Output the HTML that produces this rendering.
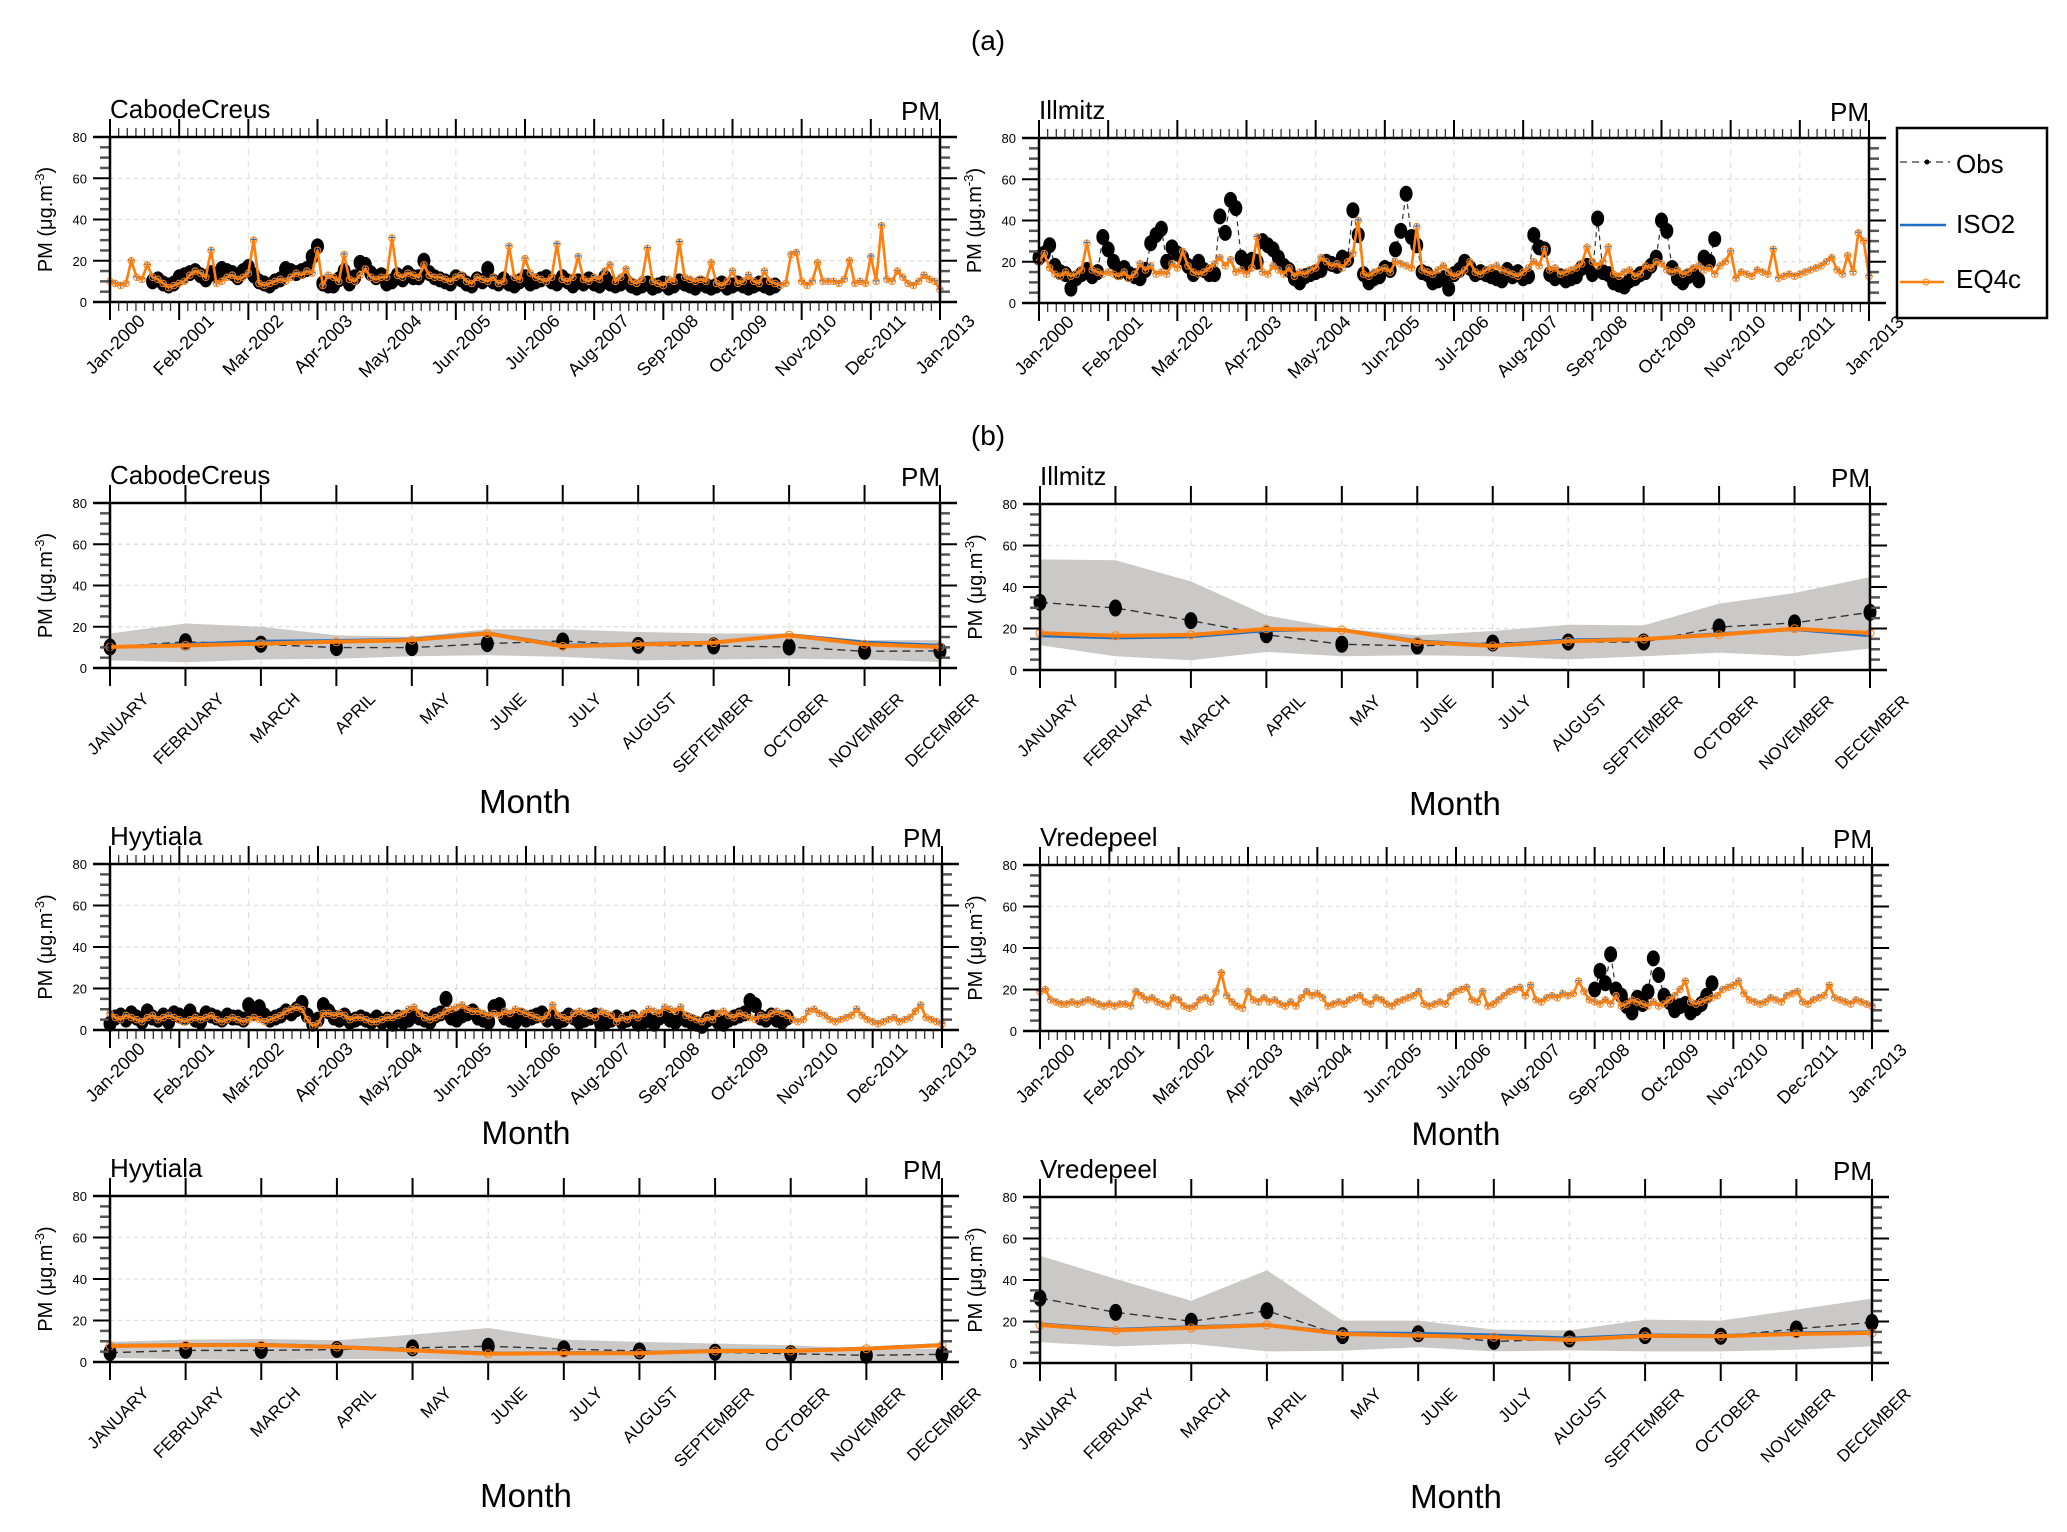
<!DOCTYPE html>
<html><head><meta charset="utf-8">
<style>
html,body{margin:0;padding:0;background:#fff;}
svg{display:block;font-family:"Liberation Sans",sans-serif;}
</style></head>
<body>
<svg id="chart" width="2067" height="1532" viewBox="0 0 2067 1532" xmlns="http://www.w3.org/2000/svg">
<rect width="2067" height="1532" fill="#fff"/>
<text x="988" y="50" font-size="28" text-anchor="middle">(a)</text>
<text x="988" y="445" font-size="28" text-anchor="middle">(b)</text>
<g>
<rect x="1897" y="128" width="150" height="190" fill="#fff" stroke="#000" stroke-width="2.5"/>
<g><line x1="1900" y1="162" x2="1950" y2="162" stroke="#555" stroke-width="1.5" stroke-dasharray="7,5"/><circle cx="1927" cy="162" r="2.5" fill="#000"/><text x="1956" y="173" font-size="26">Obs</text></g>
<g><line x1="1900" y1="225" x2="1946" y2="225" stroke="#1f6fc0" stroke-width="2.5"/><text x="1956" y="233" font-size="26">ISO2</text></g>
<g><line x1="1900" y1="282" x2="1944" y2="282" stroke="#ff7f0e" stroke-width="2.5"/><circle cx="1926" cy="282" r="3" fill="none" stroke="#ff7f0e"/><text x="1956" y="288" font-size="26">EQ4c</text></g>
</g>
</svg>
<script>
// ---- time-series data (monthly, Jan-2000 .. Jan-2013) ----
const tsTickLabels = ["Jan-2000","Feb-2001","Mar-2002","Apr-2003","May-2004","Jun-2005","Jul-2006","Aug-2007","Sep-2008","Oct-2009","Nov-2010","Dec-2011","Jan-2013"];
const monthLabels = ["JANUARY","FEBRUARY","MARCH","APRIL","MAY","JUNE","JULY","AUGUST","SEPTEMBER","OCTOBER","NOVEMBER","DECEMBER"];
const yTicks = [0,20,40,60,80];

const caboModel = [10,9,8,9,20,12,11,18,12,11,9,7, 8,9,10,13,15,14,12,25,9,10,12,13, 11,12,14,30,9,8,9,10,11,10,12,14, 13,15,14,25,8,13,12,10,23,11,10,13, 16,12,11,12,12,31,13,12,14,13,12,18, 13,12,12,11,10,12,13,10,9,12,11,10, 12,9,10,27,12,11,21,14,12,11,10,12, 28,11,10,12,22,11,10,12,11,15,18,10, 12,16,10,9,11,26,10,9,8,11,10,29, 12,11,10,11,10,19,9,8,10,15,9,10, 13,10,9,15,10,9,8,9,23,24,10,8, 10,19,10,10,10,9,11,20,9,10,9,22, 10,37,11,10,15,12,9,8,10,13,11,10,6];
const caboObsStart = 8;
const caboObs = [10,11,9,8, 9,12,13,14,15,13,11,14,13,16,15,14, 12,15,17,13,10,9,8,10,11,16,15,14, 15,16,22,27,9,8,8,11,15,9,12,19, 18,14,12,13,9,10,13,11,14,12,12,20, 14,12,11,10,9,12,11,9,8,11,10,16, 10,9,11,9,8,10,12,9,10,11,12,10, 9,12,10,8,10,9,11,9,8,12,9,8, 9,10,8,7,8,9,7,8,9,7,8,10, 9,8,7,9,8,7,8,9,7,8,9,8, 7,8,9,8,7,8];

const illModel = [20,24,17,14,13,15,13,14,16,29,16,15, 14,15,14,13,15,12,14,19,16,18,14,15, 14,19,17,25,18,15,14,15,17,19,22,18, 21,15,16,14,17,32,15,14,18,16,14,17, 13,15,14,16,17,22,20,18,19,17,20,24, 40,14,13,15,16,17,15,20,19,18,17,37, 16,15,14,16,18,15,13,14,16,20,15,14, 16,17,18,16,15,14,13,15,17,20,18,26, 16,17,14,15,16,17,19,27,20,18,20,27, 14,13,15,16,13,14,18,17,20,19,16,15, 16,14,15,17,18,16,17,14,18,20,25,12, 15,14,13,16,15,14,26,12,13,14,13,14, 15,16,17,18,20,22,16,14,23,15,34,30,13];
const illObsStart = 0;
const illObs = [22,24,28,18,15,14,7,12,14,16,13,15, 32,26,20,15,17,14,13,12,16,29,33,36, 20,27,24,22,18,14,20,16,14,14,42,34, 50,46,22,18,21,20,30,28,26,22,18,16, 12,10,13,14,15,16,20,19,18,22,21,45, 33,14,10,12,13,17,16,26,35,53,32,28, 15,14,10,11,12,7,14,16,20,17,14,15, 14,13,12,11,16,13,15,12,13,33,27,26, 14,12,13,11,12,13,17,18,14,41,15,14, 10,9,8,11,12,14,15,18,22,40,35,17, 12,10,13,14,11,22,20,31];

const hyyModel = [8,6,5,7,6,5,4,6,7,5,6,7, 6,5,4,5,6,5,6,7,5,4,5,6, 5,4,5,6,5,4,5,6,7,9,10,11, 10,5,2,3,8,8,7,8,7,5,6,6, 5,4,4,5,6,6,7,8,10,11,8,6, 5,6,7,9,10,11,12,10,9,9,8,7, 8,7,9,8,10,9,8,7,6,5,7,12, 7,6,5,8,9,8,7,6,9,8,7,4, 6,5,7,6,8,10,9,8,11,10,9,11, 7,6,5,4,6,5,8,9,7,6,8,7, 6,5,7,6,8,9,8,7,5,4,5,9, 10,8,7,5,4,5,6,7,10,7,5,4, 3,4,5,6,4,5,6,9,12,6,5,4,3];
const hyyObsStart = 0;
const hyyObs = [3,6,7,5,8,6,4,9,6,5,7,4, 8,7,6,9,5,4,8,7,6,5,7,6, 6,5,12,8,11,7,5,6,7,9,8,10, 13,7,3,5,12,9,6,5,7,4,5,6, 5,4,6,4,5,3,6,4,5,7,6,5, 4,7,8,15,6,5,7,8,9,6,5,4, 11,12,6,5,4,7,5,6,7,8,5,6, 4,5,7,6,4,5,6,7,3,4,5,6, 4,5,6,3,4,5,3,6,7,5,4,6, 5,4,3,2,5,6,4,3,5,6,7,8, 14,12,6,5,7,5,4,6];

const vreModel = [19,20,15,14,13,13,14,13,14,15,14,13, 12,13,12,13,13,12,19,17,15,16,14,13, 12,16,15,12,11,12,15,16,14,19,28,17, 14,12,11,19,15,14,16,14,15,13,12,14, 12,16,19,17,18,16,12,13,14,13,15,16, 17,14,13,16,15,13,12,14,15,16,17,19, 13,12,13,14,13,17,19,20,21,15,14,19, 12,13,15,17,19,20,21,17,22,15,14,16, 17,16,18,17,18,24,19,15,14,13,15,13, 17,12,13,15,14,13,12,14,12,13,15,17, 20,24,14,13,14,15,16,17,20,21,22,24, 18,15,14,13,14,16,15,14,17,18,19,14, 13,15,16,17,22,16,15,14,13,15,14,13,12];
const vreObsStart = 104;
const vreObs = [20,29,23,37,20,17,12,9,16,13,19,35,27,17,14,10,12,13,9,11,13,17,23];

// ---- monthly climatology data ----
const caboMObs = [10.2,12.7,11.5,9.9,9.9,11.8,13.1,11,10.7,10.2,8.1,8.3];
const caboMIso = [10.2,11.5,13,13.3,14,17,11,11.8,12.5,16.2,12.5,11];
const caboMEq = [10.2,10.9,11.8,12.7,13.5,16.7,10.5,11.4,12.3,15.9,11.5,10.2];
const caboMHi = [16.7,21.6,20,15.9,15.1,18.7,18.7,17.5,16.7,16.7,13.5,13.5];
const caboMLo = [3.7,2.8,4.1,4.5,5.7,6.2,5.4,3.7,4.1,4.5,4.1,2.9];

const illMObs = [32.6,29.9,23.8,17,12.4,11.6,13,13.5,13.5,20.7,22.7,27.8];
const illMIso = [16.5,15.5,16,19,19.5,14,12,14.5,15,17.5,19.5,16.5];
const illMEq = [17.8,16.5,16.9,19.8,19.3,13.5,11.6,13.8,14.9,17,19.9,17.8];
const illMHi = [53.3,52.9,42.7,26.3,19.9,16.7,18.8,21.8,21.5,32,37.1,44.8];
const illMLo = [11.9,6.6,4.7,8.7,6.6,7.1,6.6,5.1,6.6,8.4,6.6,10.3];

const hyyMObs = [4.5,5.6,5.6,6,6.8,7.6,6.3,5.3,4.7,4,3.2,3.7];
const hyyMIso = [8,8.4,8.5,7.5,5.9,4.3,4.5,4.5,5.6,5.6,6.7,8.4];
const hyyMEq = [7.7,8.1,8.2,7.2,5.6,4,4.2,4.2,5.3,5.3,6.4,8.1];
const hyyMHi = [9.7,10.8,11.1,10.5,13.2,16.4,10.8,9.7,8.9,8.1,6.4,6.4];
const hyyMLo = [1.9,1.4,0.8,1.4,1.4,0.8,0.8,1.1,0.8,1.1,0.8,0.8];

const vreMObs = [31.3,24.4,20.1,25.2,13.2,14.1,10.4,11.6,13.2,12.9,16.4,19.6];
const vreMIso = [18.8,16.2,17.5,18.5,14.5,14.3,13.5,12,13.5,13.2,14.5,15];
const vreMEq = [18.3,15.7,16.9,18.3,14,13.2,12.4,11.1,13,12.9,14,14.5];
const vreMHi = [51.7,40.5,30,44.7,20.4,20.4,16.1,15.7,20.9,20.4,25.7,31];
const vreMLo = [10,8,9.3,5.6,5.9,7.6,5.6,6.1,5.6,5.6,6.4,8];

const NS = "http://www.w3.org/2000/svg";
const svg = document.getElementById("chart");
const BLUE = "#1f6fc0", ORANGE = "#ff7f0e", BAND = "#cbc8c8";

function mk(parent, tag, attrs, name) {
  const el = document.createElementNS(NS, tag);
  for (const k in attrs) el.setAttribute(k, attrs[k]);
  
  
  parent.appendChild(el);
  return el;
}

function frame(g, L, T, W, H, nX, xPos) {
  const B = T + H, R = L + W;
  const yS = v => B - v / 80 * H;
  [20,40,60].forEach(v => mk(g, "line", {x1:L, x2:R, y1:yS(v), y2:yS(v), stroke:"#ddd", "stroke-width":1.3, "stroke-dasharray":"4,4"}, "y-gridline"));
  for (let i = 1; i < nX - 1; i++) mk(g, "line", {x1:xPos(i), x2:xPos(i), y1:T, y2:B, stroke:"#e2e2e2", "stroke-width":1.3, "stroke-dasharray":"6,6"}, "x-gridline");
  return {B, R, yS};
}

function axes(g, L, T, W, H, station, nX, xPos, labels, minorX, labelDx, labelDy, fontX) {
  const B = T + H, R = L + W;
  const yS = v => B - v / 80 * H;
  for (let v = 0; v <= 80; v += 5) {
    const major = v % 20 === 0;
    const len = major ? 17 : 10;
    mk(g, "line", {x1:L - len, x2:L, y1:yS(v), y2:yS(v), stroke: major ? "#000" : "#555", "stroke-width": major ? 2 : 2.5}, "y-tick-left");
    mk(g, "line", {x1:R, x2:R + len, y1:yS(v), y2:yS(v), stroke: major ? "#000" : "#555", "stroke-width": major ? 2 : 2.5}, "y-tick-right");
  }
  yTicks.forEach(v => {
    const t = mk(g, "text", {x:L - 23, y:yS(v) + 5, "font-size":13, "text-anchor":"end"}, "y-tick-label");
    t.textContent = v;
  });
  minorX.forEach(x => {
    mk(g, "line", {x1:x, x2:x, y1:T - 9, y2:T, stroke:"#333", "stroke-width":1.3}, "x-minor-tick-top");
    mk(g, "line", {x1:x, x2:x, y1:B, y2:B + 9, stroke:"#333", "stroke-width":1.3}, "x-minor-tick-bottom");
  });
  for (let i = 0; i < nX; i++) {
    const x = xPos(i);
    mk(g, "line", {x1:x, x2:x, y1:T - 18, y2:T, stroke:"#000", "stroke-width":2}, "x-tick-top");
    mk(g, "line", {x1:x, x2:x, y1:B, y2:B + 18, stroke:"#000", "stroke-width":2}, "x-tick-bottom");
    const tx = x + labelDx, ty = B + labelDy;
    const t = mk(g, "text", {x:tx, y:ty, "font-size":fontX, "text-anchor":"end", transform:`rotate(-45 ${tx} ${ty})`}, "x-tick-label");
    t.textContent = labels[i];
  }
  mk(g, "line", {x1:L - 17, x2:R + 17, y1:T, y2:T, stroke:"#000", "stroke-width":2.5}, "top-axis-line");
  mk(g, "line", {x1:L - 17, x2:R + 17, y1:B, y2:B, stroke:"#000", "stroke-width":2.5}, "bottom-axis-line");
  mk(g, "line", {x1:L, x2:L, y1:T, y2:B, stroke:"#000", "stroke-width":2.5}, "left-axis-line");
  mk(g, "line", {x1:R, x2:R, y1:T, y2:B, stroke:"#000", "stroke-width":2.5}, "right-axis-line");
  const st = mk(g, "text", {x:L, y:T - 19, "font-size":26}, "station-title");
  st.textContent = station;
  const pm = mk(g, "text", {x:R, y:T - 17, "font-size":26, "text-anchor":"end"}, "variable-label");
  pm.textContent = "PM";
  const cx = L - 58, cy = T + H / 2;
  const yt = mk(g, "text", {x:cx, y:cy, "font-size":20, "text-anchor":"middle", transform:`rotate(-90 ${cx} ${cy})`}, "y-axis-title");
  yt.innerHTML = 'PM (μg.m<tspan font-size="13" dy="-8">-3</tspan><tspan dy="8">)</tspan>';
}

function polyline(g, pts, attrs, name) {
  const a = Object.assign({points: pts.map(p => p.join(",")).join(" "), fill:"none"}, attrs);
  return mk(g, "polyline", a, name);
}

function tsPanel(L, T, W, H, station, model, obsStart, obs, month) {
  const g = mk(svg, "g", {}, "timeseries-panel-" + station.toLowerCase());
  const xm = m => L + m / 156 * W;
  const xPos = i => xm(i * 13);
  const f = frame(g, L, T, W, H, 13, xPos);
  const yS = f.yS;
  const minor = [];
  for (let i = 0; i < 12; i++) for (let k = 1; k < 8; k++) minor.push(xm(i * 13 + k * 13 / 8));
  const op = obs.map((v, i) => [xm(obsStart + i), yS(v)]);
  polyline(g, op, {stroke:"#333", "stroke-width":1.2, "stroke-dasharray":"5,4"}, "obs-line");
  op.forEach(p => mk(g, "ellipse", {cx:p[0], cy:p[1], rx:6.5, ry:8, fill:"#000"}, "obs-point"));
  const ip = model.map((v, i) => [xm(i), yS(v + 0.3)]);
  polyline(g, ip, {stroke:BLUE, "stroke-width":2}, "iso2-line");
  ip.forEach(p => mk(g, "path", {d:`M${p[0]-3},${p[1]}h6M${p[0]},${p[1]-3}v6`, stroke:BLUE, "stroke-width":1.2}, "iso2-marker"));
  const ep = model.map((v, i) => [xm(i), yS(v)]);
  polyline(g, ep, {stroke:ORANGE, "stroke-width":2.6}, "eq4c-line");
  ep.forEach(p => mk(g, "circle", {cx:p[0], cy:p[1], r:3.3, fill:"none", stroke:ORANGE, "stroke-width":1}, "eq4c-marker"));
  axes(g, L, T, W, H, station, 13, xPos, tsTickLabels, minor, 36, 20, 18);
  if (month) {
    const t = mk(g, "text", {x:L + W / 2, y:T + H + 114, "font-size":32, "text-anchor":"middle"}, "x-axis-title");
    t.textContent = "Month";
  }
}

function monthPanel(L, T, W, H, station, obs, iso, eq, hi, lo) {
  const g = mk(svg, "g", {}, "monthly-panel-" + station.toLowerCase());
  const xPos = i => L + i / 11 * W;
  const f = frame(g, L, T, W, H, 12, xPos);
  const yS = f.yS;
  const band = hi.map((v, i) => [xPos(i), yS(v)]).concat(lo.map((v, i) => [xPos(i), yS(v)]).reverse());
  mk(g, "polygon", {points: band.map(p => p.join(",")).join(" "), fill:BAND}, "range-band");
  const op = obs.map((v, i) => [xPos(i), yS(v)]);
  polyline(g, op, {stroke:"#333", "stroke-width":1.4, "stroke-dasharray":"8,5"}, "obs-line");
  op.forEach(p => mk(g, "ellipse", {cx:p[0], cy:p[1], rx:6.5, ry:8.5, fill:"#000"}, "obs-point"));
  polyline(g, iso.map((v, i) => [xPos(i), yS(v)]), {stroke:BLUE, "stroke-width":3}, "iso2-line");
  const ep = eq.map((v, i) => [xPos(i), yS(v)]);
  polyline(g, ep, {stroke:ORANGE, "stroke-width":4}, "eq4c-line");
  ep.forEach(p => mk(g, "circle", {cx:p[0], cy:p[1], r:4, fill:"none", stroke:ORANGE, "stroke-width":1}, "eq4c-marker"));
  axes(g, L, T, W, H, station, 12, xPos, monthLabels, [], 40, 32, 17);
  const t = mk(g, "text", {x:L + W / 2, y:T + H + 145, "font-size":33, "text-anchor":"middle"}, "x-axis-title");
  t.textContent = "Month";
}

tsPanel(110, 137, 830, 165, "CabodeCreus", caboModel, caboObsStart, caboObs, false);
tsPanel(1039, 138, 830, 165, "Illmitz", illModel, illObsStart, illObs, false);
monthPanel(110, 503, 830, 165, "CabodeCreus", caboMObs, caboMIso, caboMEq, caboMHi, caboMLo);
monthPanel(1040, 504, 830, 166, "Illmitz", illMObs, illMIso, illMEq, illMHi, illMLo);
tsPanel(110, 864, 832, 166, "Hyytiala", hyyModel, hyyObsStart, hyyObs, true);
tsPanel(1040, 865, 832, 166, "Vredepeel", vreModel, vreObsStart, vreObs, true);
monthPanel(110, 1196, 832, 166, "Hyytiala", hyyMObs, hyyMIso, hyyMEq, hyyMHi, hyyMLo);
monthPanel(1040, 1197, 832, 166, "Vredepeel", vreMObs, vreMIso, vreMEq, vreMHi, vreMLo);
</script>
</body></html>
